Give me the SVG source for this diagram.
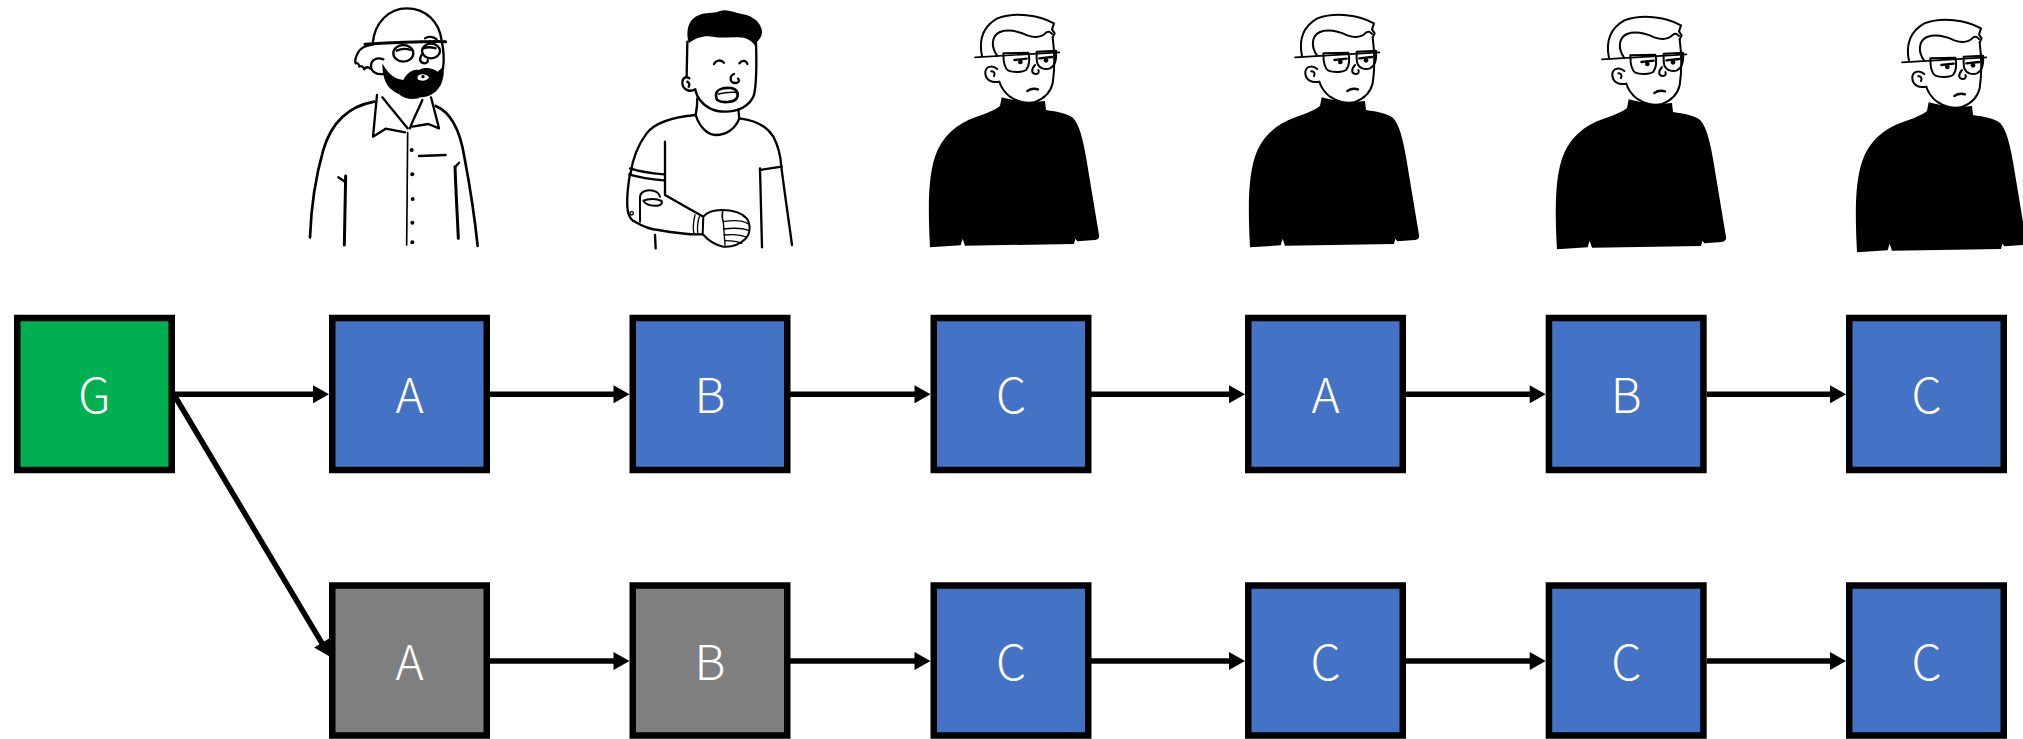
<svg xmlns="http://www.w3.org/2000/svg" xmlns:xlink="http://www.w3.org/1999/xlink" width="2023" height="739" viewBox="0 0 2023 739">
  <style>
    .box { stroke: #000; stroke-width: 6.5; }
    .g { fill: #00B050; }
    .b { fill: #4472C4; }
    .x { fill: #7F7F7F; }
    .lbl { fill: #fff; font-family: "Noto Sans CJK JP", "Liberation Sans", sans-serif; font-weight: 300; font-size: 48px; text-anchor: middle; }
    .edge { stroke: #000; stroke-width: 5.5; fill: none; marker-end: url(#head); }
    .ink { fill: none; stroke: #000; stroke-linecap: round; stroke-linejoin: round; }
    .solid { fill: #000; stroke: none; }
  </style>
  <defs>
    <marker id="head" markerUnits="userSpaceOnUse" markerWidth="18" markerHeight="18" viewBox="0 0 16 18" refX="6" refY="9" orient="auto">
      <path d="M0,0 L16,9 L0,18 Z" fill="#000"/>
    </marker>

    <!-- man in black turtleneck, drawn at 3x and scaled down on use -->
    <g id="peep-turtleneck">
      <path class="solid" d="M 30,742 C 25,640 22,540 45,470 C 65,410 110,370 170,350 C 200,340 225,330 240,318 L 245,292 C 275,300 320,310 375,303 L 378,330 C 410,335 445,340 460,355 C 478,375 488,415 498,470 L 537,705 C 539,712 535,718 525,720 L 472,724 L 466,716 L 462,732 L 135,737 L 128,716 L 122,736 Z"/>
      <path fill="#fff" d="M 185,165 C 178,110 195,70 240,50 C 300,38 360,48 402,72 L 403,200 C 400,260 380,295 340,307 C 300,312 262,292 238,245 C 215,250 195,240 196,220 C 196,200 210,195 225,200 Z"/>
      <g class="ink" stroke-width="6">
        <path d="M 186,168 C 176,120 188,80 232,55 C 285,36 355,44 402,70 L 396,88 L 404,100 L 398,112"/>
        <path d="M 232,168 C 212,140 214,108 240,96 C 268,86 300,96 322,106 C 345,114 365,112 378,98 C 385,92 392,96 396,102"/>
        <path d="M 398,112 C 403,150 404,210 398,250 C 392,275 375,295 345,306 C 320,312 290,305 270,290 C 255,278 243,262 238,245"/>
        <path d="M 232,207 C 215,193 195,200 196,220 C 197,240 215,250 238,245"/>
        <path d="M 214,214 C 222,213 226,220 222,228"/>
        <path d="M 165,172 L 418,157" stroke-width="5"/>
        <path d="M 250,160 L 325,158 C 330,175 328,200 318,210 C 308,217 280,218 265,212 C 252,205 250,185 250,160 Z"/>
        <path d="M 350,155 L 408,152 C 410,175 405,198 390,205 C 375,210 358,205 352,190 C 349,180 350,165 350,155 Z"/>
        <path d="M 283,180 L 320,176" stroke-width="7"/>
        <path d="M 358,175 L 396,171" stroke-width="7"/>
        <path d="M 345,195 C 332,210 335,222 348,222 C 356,222 358,215 355,210"/>
        <path d="M 322,273 C 332,266 344,265 354,268" stroke-width="7"/>
      </g>
      <circle cx="301" cy="186" r="7"/>
      <circle cx="378" cy="181" r="7"/>
    </g>
  </defs>

  <!-- portraits above the rows -->
  <g id="person-bearded" transform="translate(295,0) scale(0.33333)">
    <path class="solid" d="M 262,190 C 275,215 295,238 325,240 C 335,220 352,206 372,210 C 388,200 412,203 428,215 L 446,198 C 450,240 435,275 400,288 C 360,300 310,290 285,265 C 270,250 262,225 262,190 Z"/>
    <path fill="#fff" d="M 368,228 C 378,220 395,222 402,232 C 398,242 380,246 368,238 Z"/>
    <circle cx="384" cy="230" r="5"/>
    <g class="ink" stroke-width="7">
      <path d="M 233,132 C 238,65 285,25 335,25 C 392,25 433,65 440,122"/>
      <path d="M 440,122 C 446,150 448,180 444,205"/>
      <path d="M 210,133 C 290,128 370,124 452,125" stroke-width="9"/>
      <ellipse cx="325" cy="160" rx="30" ry="25"/>
      <ellipse cx="408" cy="153" rx="27" ry="22"/>
      <path d="M 305,152 C 318,146 335,146 348,150"/>
      <path d="M 385,145 C 395,141 410,141 422,145"/>
      <path d="M 390,115 C 400,108 415,110 425,118"/>
      <path d="M 383,160 C 372,175 372,188 388,190 C 396,190 400,185 398,180"/>
      <path d="M 233,134 C 212,136 195,145 188,160 C 182,172 178,180 182,190 C 188,188 192,192 193,200 C 198,196 205,200 208,208 C 212,200 220,200 226,206"/>
      <path d="M 265,178 C 245,170 228,180 228,198 C 228,215 245,225 265,222"/>
      <path d="M 318,283 C 330,292 350,295 368,292"/>
      <path d="M 246,285 L 234,410 L 272,386 L 330,397"/>
      <path d="M 262,292 C 285,320 310,350 338,385"/>
      <path d="M 382,300 C 370,330 355,355 345,385"/>
      <path d="M 408,292 L 432,385 L 400,372 L 352,380"/>
      <path d="M 238,305 C 165,318 110,365 85,450 C 62,530 48,630 45,712" stroke-width="8"/>
      <path d="M 422,318 C 470,338 495,390 508,470 C 525,560 540,660 548,738" stroke-width="8"/>
      <path d="M 130,532 L 150,545"/>
      <path d="M 152,528 L 148,735" stroke-width="9"/>
      <path d="M 492,488 L 480,502"/>
      <path d="M 480,500 C 483,580 487,650 490,715" stroke-width="9"/>
      <path d="M 338,398 L 335,735" stroke-width="5"/>
      <path d="M 372,468 L 452,465"/>
    </g>
    <circle cx="350" cy="450" r="6"/>
    <circle cx="352" cy="523" r="6"/>
    <circle cx="353" cy="597" r="6"/>
    <circle cx="352" cy="668" r="6"/>
    <circle cx="352" cy="727" r="6"/>
  </g>

  <g id="person-prosthetic-arm" transform="translate(610,0) scale(0.33333)">
    <path class="solid" d="M 234,120 C 228,85 238,55 268,45 C 288,36 308,42 330,33 C 352,26 372,38 396,42 C 425,47 447,62 454,85 C 460,100 452,118 440,126 L 436,138 C 425,122 408,112 385,112 C 360,110 335,116 310,110 C 285,105 258,112 236,130 Z"/>
    <g class="ink" stroke-width="7">
      <path d="M 232,125 L 230,230"/>
      <path d="M 438,128 C 440,190 440,250 432,285 C 420,318 385,335 345,335 C 310,335 285,320 270,300 C 262,290 258,280 256,270"/>
      <path d="M 238,235 C 222,225 212,242 220,260 C 226,272 242,276 256,268"/>
      <path d="M 232,245 C 238,248 240,255 236,260"/>
      <path d="M 262,295 C 262,315 260,330 257,345"/>
      <path d="M 385,328 L 388,355"/>
      <path d="M 312,192 C 318,180 333,178 342,188"/>
      <path d="M 388,190 C 395,180 408,180 412,192"/>
      <path d="M 372,222 C 358,228 358,248 375,249 C 386,249 390,242 384,236"/>
      <path fill="#fff" d="M 318,285 C 318,268 340,262 362,264 C 380,266 388,280 380,295 C 370,308 335,310 322,300 C 318,296 318,290 318,285 Z" stroke-width="8"/>
      <path d="M 325,282 C 340,278 360,276 378,277" stroke-width="5"/>
      <path d="M 257,345 C 268,380 292,405 318,405 C 348,405 375,388 388,355"/>
      <path d="M 257,345 C 200,350 140,362 110,400 C 80,440 66,490 62,520"/>
      <path d="M 388,355 C 432,360 470,378 490,410 C 506,440 512,470 514,500"/>
      <path d="M 514,500 C 524,580 536,660 546,735"/>
      <path d="M 450,510 L 515,500"/>
      <path d="M 450,505 C 452,600 454,680 456,742"/>
      <!-- inner arm edge running into the forearm -->
      <path d="M 165,425 C 165,480 165,540 165,585 C 200,605 240,628 280,650"/>
      <path d="M 60,505 C 90,515 125,520 162,523"/>
      <path d="M 58,524 C 90,533 125,538 162,541"/>
      <path d="M 60,520 C 52,570 50,620 55,640 C 60,655 66,662 75,665 C 100,680 120,688 145,690 C 190,698 235,705 278,703"/>
      <path d="M 90,665 L 90,590 C 92,575 110,568 130,572 C 140,575 148,583 150,590" stroke-width="6"/>
      <path d="M 100,602 C 115,595 140,595 155,603 C 158,612 150,618 135,617 C 118,617 105,612 100,602 Z" stroke-width="6"/>
      <circle cx="65" cy="640" r="5" stroke-width="4"/>
      <path d="M 255,645 C 250,665 248,685 252,702" stroke-width="4"/>
      <path d="M 268,650 C 262,668 261,685 264,703" stroke-width="4"/>
      <path fill="#fff" d="M 280,650 C 290,638 310,630 335,630 C 365,630 395,638 410,655 C 422,672 423,700 405,718 C 390,732 365,742 340,740 C 315,735 295,722 278,702 Z" stroke-width="6"/>
      <path d="M 338,632 C 336,645 336,655 340,665" stroke-width="5"/>
      <path d="M 340,665 C 370,660 400,662 415,672 M 340,687 C 370,683 400,685 418,692 M 342,705 C 370,702 395,705 410,712 M 345,722 C 365,722 385,725 395,730" stroke-width="4"/>
      <path d="M 340,665 L 345,735" stroke-width="4"/>
      <path d="M 135,705 L 137,745"/>
    </g>
  </g>

  <use id="person-turtleneck-1" xlink:href="#peep-turtleneck" transform="translate(920,0) scale(0.33333)"/>
  <use id="person-turtleneck-2" xlink:href="#peep-turtleneck" transform="translate(1240,0) scale(0.33333)"/>
  <use id="person-turtleneck-3" xlink:href="#peep-turtleneck" transform="translate(1547,2) scale(0.33333)"/>
  <use id="person-turtleneck-4" xlink:href="#peep-turtleneck" transform="translate(1847,5) scale(0.33333)"/>

  <!-- connectors -->
  <g id="connectors">
    <line class="edge" x1="175" y1="394.3" x2="319" y2="394.3"/>
    <line class="edge" x1="489" y1="394.3" x2="619.5" y2="394.3"/>
    <line class="edge" x1="790" y1="394.3" x2="920.5" y2="394.3"/>
    <line class="edge" x1="1091" y1="394.3" x2="1235" y2="394.3"/>
    <line class="edge" x1="1406" y1="394.3" x2="1535.7" y2="394.3"/>
    <line class="edge" x1="1706.7" y1="394.3" x2="1836" y2="394.3"/>
    <line class="edge" x1="173" y1="393" x2="324.9" y2="648.1"/>
    <line class="edge" x1="489" y1="661" x2="619.5" y2="661"/>
    <line class="edge" x1="790" y1="661" x2="920.5" y2="661"/>
    <line class="edge" x1="1091" y1="661" x2="1235" y2="661"/>
    <line class="edge" x1="1406" y1="661" x2="1535.7" y2="661"/>
    <line class="edge" x1="1706.7" y1="661" x2="1836" y2="661"/>
  </g>

  <!-- top row -->
  <g id="node-G"><rect class="box g" x="17.25" y="318" width="154.5" height="152"/><text class="lbl" x="94.5" y="413">G</text></g>
  <g id="node-A1"><rect class="box b" x="332.25" y="318" width="154.5" height="152"/><text class="lbl" x="409.5" y="413">A</text></g>
  <g id="node-B1"><rect class="box b" x="632.75" y="318" width="154.5" height="152"/><text class="lbl" x="710" y="413">B</text></g>
  <g id="node-C1"><rect class="box b" x="933.75" y="318" width="154.5" height="152"/><text class="lbl" x="1011" y="413">C</text></g>
  <g id="node-A2"><rect class="box b" x="1248.25" y="318" width="154.5" height="152"/><text class="lbl" x="1325.5" y="413">A</text></g>
  <g id="node-B2"><rect class="box b" x="1548.95" y="318" width="154.5" height="152"/><text class="lbl" x="1626.2" y="413">B</text></g>
  <g id="node-C2"><rect class="box b" x="1849.25" y="318" width="154.5" height="152"/><text class="lbl" x="1926.5" y="413">C</text></g>

  <!-- bottom row -->
  <g id="node-A3"><rect class="box x" x="332.25" y="585.5" width="154.5" height="150"/><text class="lbl" x="409.5" y="680">A</text></g>
  <g id="node-B3"><rect class="box x" x="632.75" y="585.5" width="154.5" height="150"/><text class="lbl" x="710" y="680">B</text></g>
  <g id="node-C3"><rect class="box b" x="933.75" y="585.5" width="154.5" height="150"/><text class="lbl" x="1011" y="680">C</text></g>
  <g id="node-C4"><rect class="box b" x="1248.25" y="585.5" width="154.5" height="150"/><text class="lbl" x="1325.5" y="680">C</text></g>
  <g id="node-C5"><rect class="box b" x="1548.95" y="585.5" width="154.5" height="150"/><text class="lbl" x="1626.2" y="680">C</text></g>
  <g id="node-C6"><rect class="box b" x="1849.25" y="585.5" width="154.5" height="150"/><text class="lbl" x="1926.5" y="680">C</text></g>
</svg>
